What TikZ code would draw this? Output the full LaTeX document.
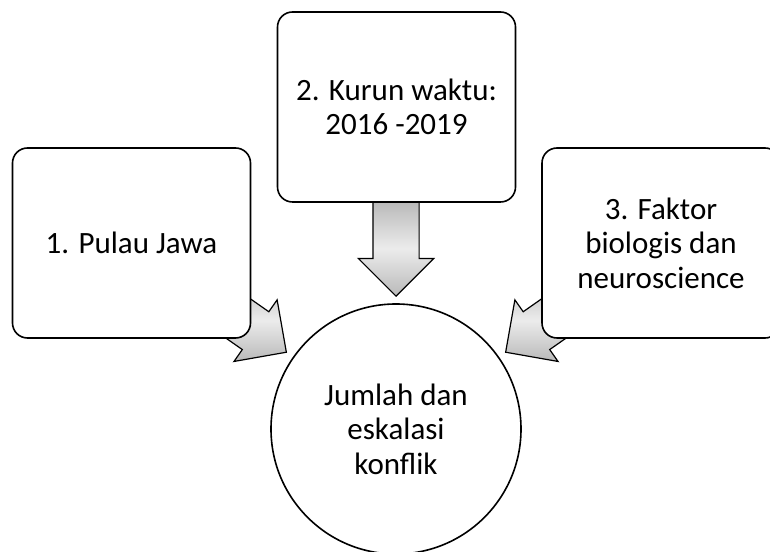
\documentclass[tikz,border=0pt]{standalone}
\usepackage{fontspec}
\setmainfont{Carlito}
\usepackage{tikz}
\usetikzlibrary{shapes.arrows, calc}

\begin{document}
\begin{tikzpicture}[x=1pt, y=1pt,
    font=\fontsize{31}{34.5}\selectfont,
    box/.style={draw, line width=1.6pt, fill=white, rounded corners=15pt,
                align=center, inner sep=0pt,
                minimum width=238pt, minimum height=190pt},
    goal/.style={draw, circle, line width=1.6pt, fill=white, align=center,
                 inner sep=0pt, minimum size=250pt},
    barrow/.style={single arrow, draw, line width=1.2pt,
                   inner xsep=0pt, inner ysep=22.5pt,
                   minimum height=95pt, minimum width=74pt,
                   single arrow head extend=14.5pt, anchor=tip,
                   top color=gray!55, bottom color=gray!55, middle color=gray!15}]

    \useasboundingbox (0,0) rectangle (770,551);
    \clip (0,0) rectangle (770,551);

    % --- Target ---
    \node[goal] (hasil) at (396,122) {Jumlah dan\\eskalasi\\konflik};

    % --- Arrows ---
    \node[barrow, rotate=-35]  (a1) at ($(hasil.center)+(145:133)$) {};
    \node[barrow, rotate=-90]  (a2) at ($(hasil.center)+(90:132)$) {};
    \node[barrow, rotate=-145] (a3) at ($(hasil.center)+(35:133)$) {};

    % --- Factors ---
    \node[box] (jawa)   at (131.5,308) {1. Pulau Jawa};
    \node[box] (kurun)  at (396.5,444) {2. Kurun waktu:\\2016 -2019};
    \node[box] (faktor) at (661,308)   {3. Faktor\\biologis dan\\neuroscience};
\end{tikzpicture}
\end{document}
